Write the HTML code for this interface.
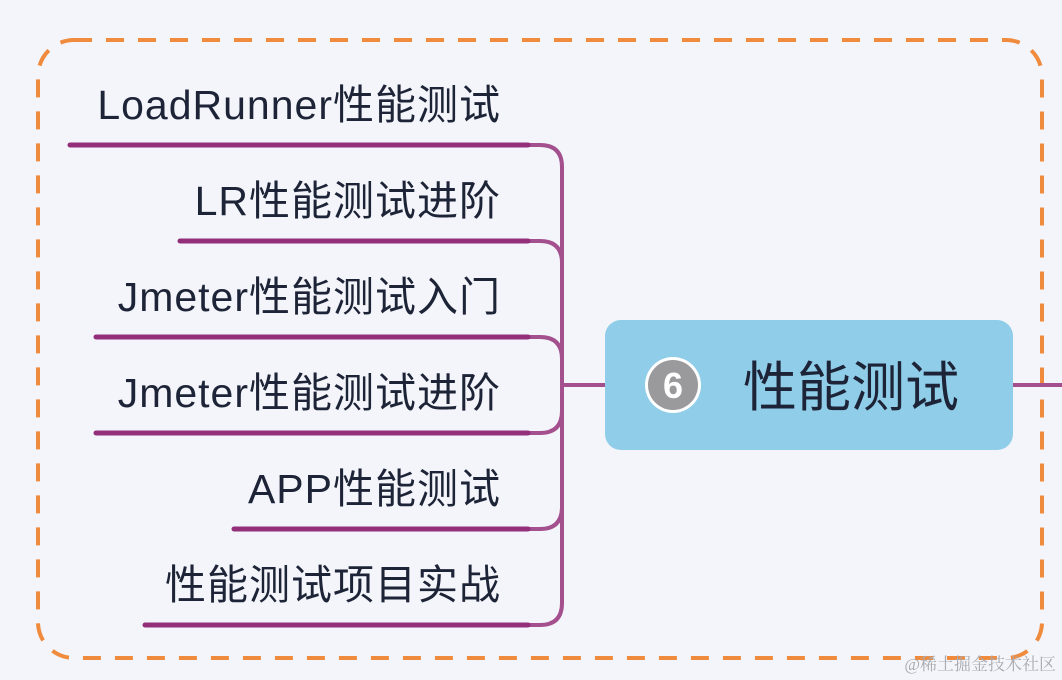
<!DOCTYPE html>
<html><head><meta charset="utf-8"><style>
html,body{margin:0;padding:0;background:#f3f5fa;}
svg{display:block}
text{font-family:"Liberation Sans","Noto Sans CJK SC",sans-serif;}
</style></head><body>
<svg width="1062" height="680" viewBox="0 0 1062 680" xmlns="http://www.w3.org/2000/svg">
<rect width="1062" height="680" fill="#f3f5fa"/>
<rect x="38" y="40" width="1004" height="618" rx="36" ry="36" fill="none" stroke="#f08a3c" stroke-width="4" stroke-dasharray="18 14"/>
<g fill="none" stroke="#a4508f" stroke-width="4" stroke-linecap="round">
<path d="M527 145 H540 Q562 145 562 167 V385"/>
<path d="M527 241 H540 Q562 241 562 263 V385"/>
<path d="M527 337 H540 Q562 337 562 359 V385"/>
<path d="M527 433 H540 Q562 433 562 411 V385"/>
<path d="M527 529 H540 Q562 529 562 507 V385"/>
<path d="M527 625 H540 Q562 625 562 603 V385"/>
<path d="M562 385 H606"/>
<path d="M1012 385 H1062"/>
</g>
<g stroke="#932f7a" stroke-width="5" stroke-linecap="round">
<line x1="70" y1="145" x2="528" y2="145"/>
<line x1="180" y1="241" x2="528" y2="241"/>
<line x1="96" y1="337" x2="528" y2="337"/>
<line x1="96" y1="433" x2="528" y2="433"/>
<line x1="234" y1="529" x2="528" y2="529"/>
<line x1="145" y1="625" x2="528" y2="625"/>
</g>
<g fill="#1e2437" font-size="41" text-anchor="end" letter-spacing="1">
<text x="501" y="119">LoadRunner性能测试</text>
<text x="501" y="215">LR性能测试进阶</text>
<text x="501" y="311">Jmeter性能测试入门</text>
<text x="501" y="407">Jmeter性能测试进阶</text>
<text x="501" y="503">APP性能测试</text>
<text x="501" y="599">性能测试项目实战</text>
</g>
<rect x="605" y="320" width="408" height="130" rx="16" ry="16" fill="#8fcde9"/>
<circle cx="673" cy="385" r="28" fill="#fff"/>
<circle cx="673" cy="385" r="25" fill="#9a9a9c"/>
<text x="673" y="398" font-size="36" font-weight="bold" fill="#fff" text-anchor="middle">6</text>
<text x="743" y="406" font-size="54" fill="#1e2437">性能测试</text>
<text x="1056" y="670" font-size="17" fill="#a9abb0" text-anchor="end" style="font-family:'Liberation Serif','Noto Serif CJK SC',serif">@稀土掘金技术社区</text>
</svg>
</body></html>
